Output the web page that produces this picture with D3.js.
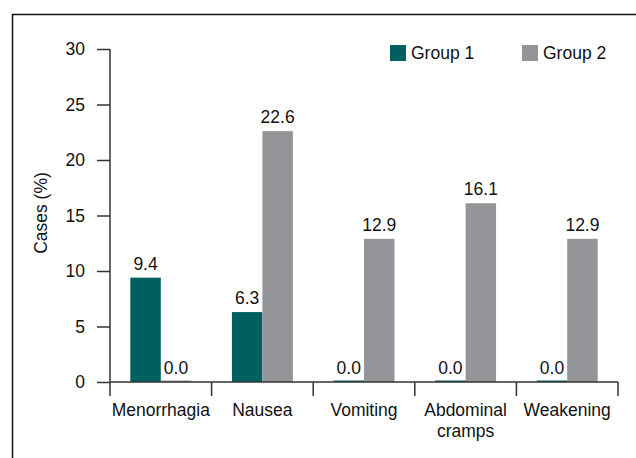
<!DOCTYPE html>
<html><head><meta charset="utf-8">
<script src="https://cdn.jsdelivr.net/npm/d3@7"></script>
<style>html,body{margin:0;padding:0;background:#fff;} svg{display:block;}</style>
</head><body>
<svg id="chart" width="636" height="458"></svg>
<script>
const categories = ["Menorrhagia", "Nausea", "Vomiting", "Abdominal\ncramps", "Weakening"];
const seriesNames = ["Group 1", "Group 2"];
const group1 = [9.4, 6.3, 0.0, 0.0, 0.0];
const group2 = [0.0, 22.6, 12.9, 16.1, 12.9];
const yTicks = [0, 5, 10, 15, 20, 25, 30];
const colors = ["#025f5f", "#939598"];

const svg = d3.select("#chart");
const W = 636, H = 458;
const font = "'Liberation Sans', Arial, sans-serif";
const fs = 17.5;

// border
svg.append("rect").attr("x", 12.5).attr("y", 14.5).attr("width", W).attr("height", H)
  .attr("fill", "none").attr("stroke", "#111").attr("stroke-width", 1.5);

const x0 = 110, x1 = 618, yTop = 49, yBot = 382;
const x = d3.scaleBand().domain(categories).range([x0, x1]).paddingInner(0.4).paddingOuter(0.2);
const xs = d3.scaleBand().domain(seriesNames).range([0, x.bandwidth()]);
const y = d3.scaleLinear().domain([0, 30]).range([yBot, yTop]);

// Y axis
const yAxis = svg.append("g").attr("transform", `translate(${x0},0)`)
  .call(d3.axisLeft(y).tickValues(yTicks).tickSize(13).tickPadding(12).tickFormat(d3.format("d")));
yAxis.select(".domain").attr("stroke", "#333").attr("stroke-width", 1.5).attr("d", `M0,${yTop}V${yBot}`);
yAxis.selectAll(".tick line").attr("stroke", "#333").attr("stroke-width", 1.5);
yAxis.selectAll(".tick text").attr("font-family", font).attr("font-size", fs).attr("fill", "#111");

// Bars
const data = categories.map((c, i) => ({ cat: c, vals: [group1[i], group2[i]] }));
const groups = svg.append("g").selectAll("g").data(data).join("g")
  .attr("transform", d => `translate(${x(d.cat)},0)`);
groups.selectAll("rect").data(d => d.vals.map((v, j) => ({ v, s: seriesNames[j], j })))
  .join("rect")
  .attr("x", d => xs(d.s))
  .attr("width", xs.bandwidth())
  .attr("y", d => d.v > 0 ? y(d.v) : yBot - 1.5)
  .attr("height", d => d.v > 0 ? yBot - y(d.v) : 1.5)
  .attr("fill", d => colors[d.j]);
groups.selectAll("text").data(d => d.vals.map((v, j) => ({ v, s: seriesNames[j] })))
  .join("text")
  .attr("x", d => xs(d.s) + xs.bandwidth() / 2)
  .attr("y", d => y(d.v) - 8)
  .attr("text-anchor", "middle")
  .attr("font-family", font).attr("font-size", fs).attr("fill", "#111")
  .text(d => d.v.toFixed(1));

// X axis
const xg = svg.append("g");
xg.append("line").attr("x1", x0).attr("x2", x1).attr("y1", yBot).attr("y2", yBot)
  .attr("stroke", "#333").attr("stroke-width", 1.5);
const bounds = d3.range(categories.length + 1).map(i => x0 + i * x.step());
xg.selectAll("line.tk").data(bounds).join("line").attr("class", "tk")
  .attr("x1", d => d).attr("x2", d => d).attr("y1", yBot).attr("y2", yBot + 14)
  .attr("stroke", "#333").attr("stroke-width", 1.5);
const lbl = xg.selectAll("text").data(categories).join("text")
  .attr("x", d => x(d) + x.bandwidth() / 2)
  .attr("y", 416)
  .attr("text-anchor", "middle")
  .attr("font-family", font).attr("font-size", fs).attr("fill", "#111");
lbl.each(function(d) {
  const parts = d.split("\n");
  d3.select(this).selectAll("tspan").data(parts).join("tspan")
    .attr("x", x(d) + x.bandwidth() / 2)
    .attr("dy", (p, i) => i === 0 ? 0 : 21)
    .text(p => p);
});

// Y label
svg.append("text").attr("transform", `translate(47,213) rotate(-90)`)
  .attr("text-anchor", "middle").attr("font-family", font).attr("font-size", fs).attr("fill", "#111")
  .text("Cases (%)");

// Legend
const legX = [390, 522];
const leg = svg.append("g").selectAll("g").data(seriesNames).join("g")
  .attr("transform", (d, i) => `translate(${legX[i]},45)`);
leg.append("rect").attr("width", 16).attr("height", 16).attr("fill", (d, i) => colors[i]);
leg.append("text").attr("x", 21).attr("y", 14).attr("font-family", font).attr("font-size", fs)
  .attr("fill", "#111").text(d => d);
</script>
</body></html>
